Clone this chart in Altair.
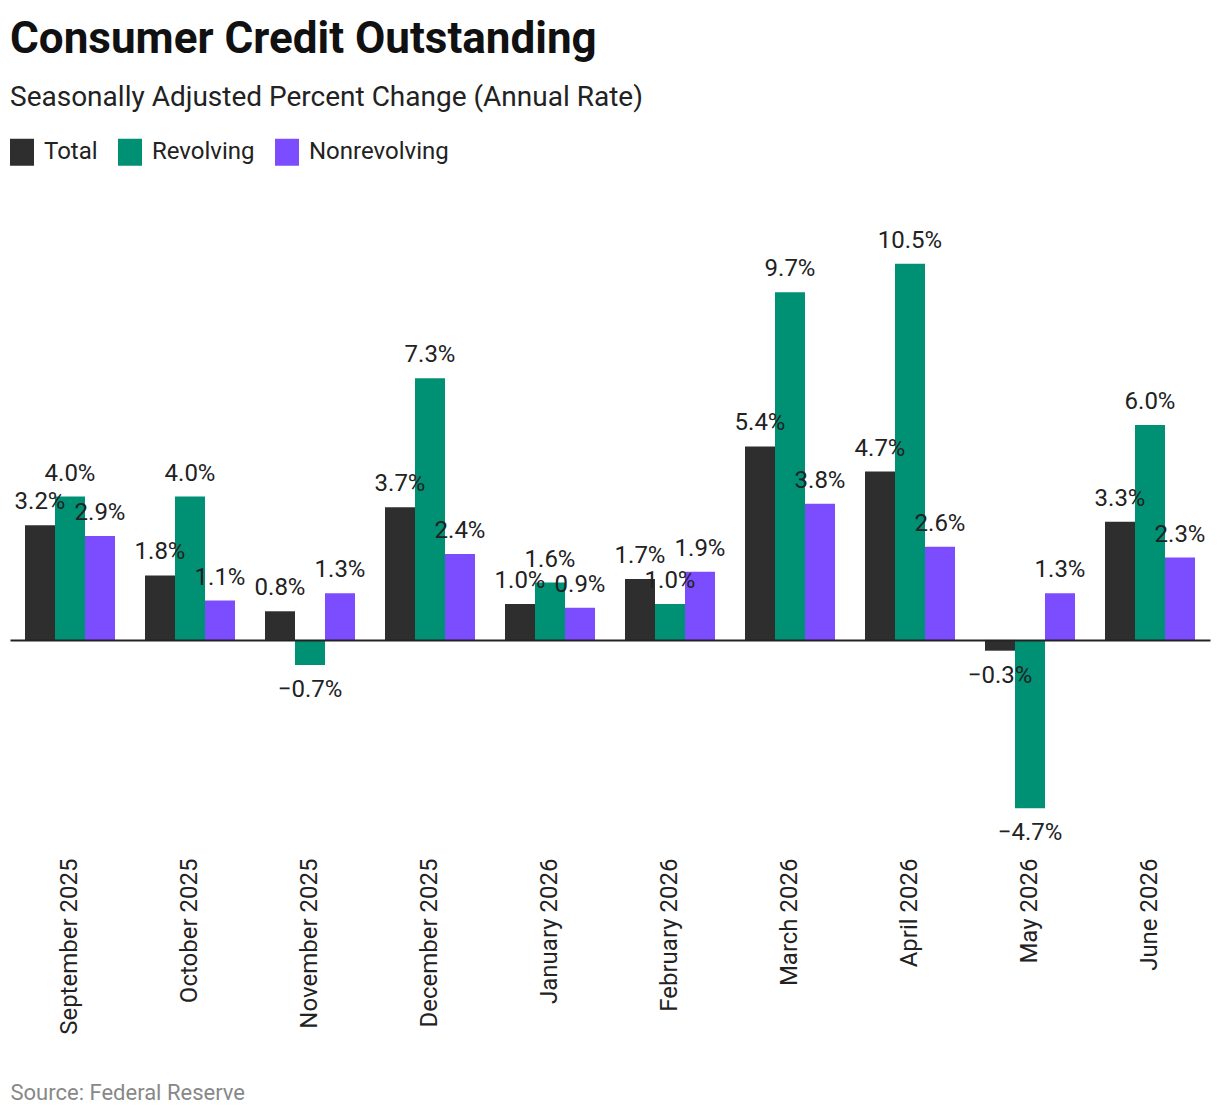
import altair as alt
import pandas as pd

months = ["September 2025", "October 2025", "November 2025", "December 2025",
          "January 2026", "February 2026", "March 2026", "April 2026",
          "May 2026", "June 2026"]
series = ["Total", "Revolving", "Nonrevolving"]
total = [3.2, 1.8, 0.8, 3.7, 1.0, 1.7, 5.4, 4.7, -0.3, 3.3]
revolving = [4.0, 4.0, -0.7, 7.3, 1.6, 1.0, 9.7, 10.5, -4.7, 6.0]
nonrevolving = [2.9, 1.1, 1.3, 2.4, 0.9, 1.9, 3.8, 2.6, 1.3, 2.3]
colors = ["#2e2e2e", "#009175", "#7c4dff"]

rows = []
for s, vals in zip(series, [total, revolving, nonrevolving]):
    for m, v in zip(months, vals):
        rows.append({"month": m, "series": s, "value": v})
df = pd.DataFrame(rows)

FONT = "Roboto"

x_enc = alt.X(
    "month:N", sort=months,
    scale=alt.Scale(paddingInner=0.25, paddingOuter=0.125),
    axis=alt.Axis(
        title="Source: Federal Reserve", titleAnchor="start", titleAlign="left",
        titleFont=FONT, titleFontSize=22, titleFontWeight="normal", titleColor="#888888",
        titlePadding=48,
        labelAngle=-90, labelFont=FONT, labelFontSize=24, labelColor="#222222",
        labelPadding=12, ticks=False, domain=False, grid=False,
    ),
)
xoff_enc = alt.XOffset("series:N", sort=series,
                       scale=alt.Scale(paddingInner=0, paddingOuter=0))
y_enc = alt.Y(
    "value:Q", scale=alt.Scale(domain=[-5.75, 12.5], nice=False, zero=False),
    axis=alt.Axis(values=[0], grid=True, gridColor="#222222", gridWidth=2,
                  gridOpacity=1, labels=False, ticks=False, domain=False,
                  title=None, zindex=1),
)
color_enc = alt.Color(
    "series:N", sort=series,
    scale=alt.Scale(domain=series, range=colors),
    legend=alt.Legend(
        orient="top", direction="horizontal", title=None,
        symbolType="M-1,-1.125H1V1.125H-1Z", symbolSize=576, symbolStrokeWidth=0,
        symbolOpacity=1,
        labelFont=FONT, labelFontSize=24, labelColor="#222222", labelOffset=10,
        columnPadding=20, offset=26,
    ),
)

base = alt.Chart(df).encode(x=x_enc, xOffset=xoff_enc, y=y_enc)

bars = base.mark_bar().encode(color=color_enc)

labels = base.transform_calculate(label="format(datum.value, '.1f') + '%'")
pos_labels = labels.transform_filter("datum.value >= 0").mark_text(
    baseline="alphabetic", dy=-16, font=FONT, fontSize=24, color="#222222"
).encode(text="label:N")
neg_labels = labels.transform_filter("datum.value < 0").mark_text(
    baseline="alphabetic", dy=32, font=FONT, fontSize=24, color="#222222"
).encode(text="label:N")

chart = alt.layer(bars, pos_labels, neg_labels).properties(
    width=1200, height=654,
    background="white",
    padding={"left": 2, "right": 2, "top": 10, "bottom": 0},
    title=alt.TitleParams(
        text="Consumer Credit Outstanding",
        subtitle="Seasonally Adjusted Percent Change (Annual Rate)",
        anchor="start", font=FONT, fontSize=44, fontWeight="bold", color="#111111",
        subtitleFont=FONT, subtitleFontSize=28, subtitleColor="#222222",
        subtitlePadding=22, offset=28,
    ),
).configure_view(strokeWidth=0, stroke="transparent")

chart.save("out.html", embed_options={"renderer": "svg", "actions": False})
